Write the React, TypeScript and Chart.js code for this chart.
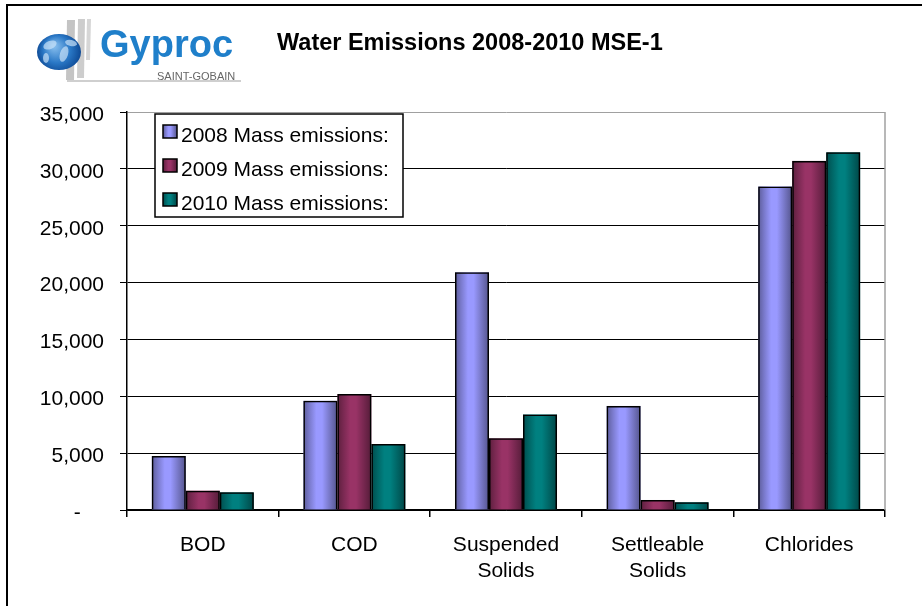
import React, { useEffect, useRef } from 'react';
import { Chart, registerables } from 'chart.js';

Chart.register(...registerables);

// ---- data ----
const categories: (string | string[])[] = ['BOD', 'COD', ['Suspended', 'Solids'], ['Settleable', 'Solids'], 'Chlorides'];
const seriesLabels = ['2008 Mass emissions:', '2009 Mass emissions:', '2010 Mass emissions:'];
const values2008 = [4750, 9600, 20900, 9150, 28450];
const values2009 = [1700, 10200, 6300, 880, 30700];
const values2010 = [1550, 5800, 8400, 680, 31450];
const yMin = 0;
const yMax = 35000;
const yStep = 5000;
const titleText = 'Water Emissions 2008-2010 MSE-1';
const logoText = 'Gyproc';
const logoSubText = 'SAINT-GOBAIN';

// ---- styles ----
const seriesColors = ['#9999FF', '#993366', '#008080'];
const FONT = '"Liberation Sans", Arial, Helvetica, sans-serif';

function hexToRgb(hex: string) {
  const h = hex.replace('#', '');
  return [parseInt(h.slice(0, 2), 16), parseInt(h.slice(2, 4), 16), parseInt(h.slice(4, 6), 16)];
}
function shade(hex: string, f: number) {
  const [r, g, b] = hexToRgb(hex);
  return `rgb(${Math.round(r * f)},${Math.round(g * f)},${Math.round(b * f)})`;
}
function barGradient(ctx: CanvasRenderingContext2D, left: number, width: number, color: string) {
  const g = ctx.createLinearGradient(left, 0, left + width, 0);
  g.addColorStop(0, shade(color, 0.6));
  g.addColorStop(0.18, shade(color, 0.8));
  g.addColorStop(0.38, color);
  g.addColorStop(0.55, color);
  g.addColorStop(0.8, shade(color, 0.75));
  g.addColorStop(1, shade(color, 0.55));
  return g;
}

function fmt(v: number) {
  if (v === 0) return '-    ';
  return String(v).replace(/\B(?=(\d{3})+(?!\d))/g, ',');
}

function drawLogo(ctx: CanvasRenderingContext2D) {
  ctx.save();
  // gray stripes
  ctx.fillStyle = '#c4c4c4';
  ctx.beginPath();
  ctx.moveTo(67, 20); ctx.lineTo(75, 20); ctx.lineTo(74, 80); ctx.lineTo(66, 80); ctx.closePath(); ctx.fill();
  ctx.fillStyle = '#cdcdcd';
  ctx.beginPath();
  ctx.moveTo(78, 19); ctx.lineTo(85, 19); ctx.lineTo(84, 78); ctx.lineTo(77, 78); ctx.closePath(); ctx.fill();
  ctx.fillStyle = '#d6d6d6';
  ctx.beginPath();
  ctx.moveTo(87, 19); ctx.lineTo(91, 19); ctx.lineTo(90, 60); ctx.lineTo(86, 60); ctx.closePath(); ctx.fill();
  // base line
  ctx.fillStyle = '#cfcfcf';
  ctx.fillRect(67, 80, 174, 2);
  // globe
  ctx.save();
  ctx.beginPath();
  ctx.ellipse(59, 52, 22, 18, 0, 0, Math.PI * 2);
  ctx.closePath();
  const rg = ctx.createRadialGradient(54, 46, 2, 59, 52, 23);
  rg.addColorStop(0, '#7fb8ea');
  rg.addColorStop(0.55, '#2a78c6');
  rg.addColorStop(1, '#0b4590');
  ctx.fillStyle = rg;
  ctx.fill();
  ctx.clip();
  ctx.fillStyle = 'rgba(200,225,248,0.7)';
  ctx.beginPath(); ctx.ellipse(50, 45, 7, 4, -0.4, 0, Math.PI * 2); ctx.fill();
  ctx.beginPath(); ctx.ellipse(64, 54, 4, 8, 0.3, 0, Math.PI * 2); ctx.fill();
  ctx.beginPath(); ctx.ellipse(46, 58, 3, 5, 0, 0, Math.PI * 2); ctx.fill();
  ctx.beginPath(); ctx.ellipse(71, 43, 6, 3, 0.2, 0, Math.PI * 2); ctx.fill();
  ctx.restore();
  // text
  ctx.fillStyle = '#1f7fca';
  ctx.font = `bold 38px ${FONT}`;
  ctx.textAlign = 'left';
  ctx.textBaseline = 'alphabetic';
  ctx.fillText(logoText, 100, 57);
  ctx.fillStyle = '#666';
  ctx.font = `11px ${FONT}`;
  ctx.fillText(logoSubText, 157, 80, 81);
  ctx.restore();
}

const decorPlugin = {
  id: 'decor',
  beforeDraw(chart: any) {
    const ctx: CanvasRenderingContext2D = chart.ctx;
    ctx.save();
    ctx.fillStyle = '#fff';
    ctx.fillRect(0, 0, chart.width, chart.height);
    ctx.strokeStyle = '#000';
    ctx.lineWidth = 2;
    ctx.strokeRect(7, 5, chart.width + 40, chart.height + 40);
    drawLogo(ctx);
    ctx.fillStyle = '#000';
    ctx.font = `bold 23.5px ${FONT}`;
    ctx.textAlign = 'left';
    ctx.textBaseline = 'alphabetic';
    ctx.fillText(titleText, 277, 49.5);
    ctx.restore();
  },
  beforeDatasetsDraw(chart: any) {
    const ctx: CanvasRenderingContext2D = chart.ctx;
    const area = chart.chartArea;
    ctx.save();
    // plot right border
    ctx.strokeStyle = '#a0a0a0';
    ctx.lineWidth = 1.5;
    ctx.beginPath();
    ctx.moveTo(area.right, area.top);
    ctx.lineTo(area.right, area.bottom);
    ctx.stroke();
    // bar gradient fills
    chart.data.datasets.forEach((ds: any, di: number) => {
      const meta = chart.getDatasetMeta(di);
      meta.data.forEach((el: any) => {
        const p = el.getProps(['x', 'y', 'base', 'width'], true);
        const left = p.x - p.width / 2;
        ctx.fillStyle = barGradient(ctx, left, p.width, seriesColors[di]);
        ctx.fillRect(left, Math.min(p.y, p.base), p.width, Math.abs(p.base - p.y));
      });
    });
    ctx.restore();
  },
  afterDraw(chart: any) {
    const ctx: CanvasRenderingContext2D = chart.ctx;
    ctx.save();
    const bx = 155, by = 114, bw = 248, bh = 103;
    ctx.fillStyle = '#fff';
    ctx.fillRect(bx, by, bw, bh);
    ctx.strokeStyle = '#000';
    ctx.lineWidth = 1.5;
    ctx.strokeRect(bx, by, bw, bh);
    ctx.font = `21px ${FONT}`;
    ctx.textAlign = 'left';
    ctx.textBaseline = 'alphabetic';
    seriesLabels.forEach((lab, i) => {
      const sy = 125 + i * 34;
      ctx.fillStyle = barGradient(ctx, 163, 14, seriesColors[i]);
      ctx.fillRect(163, sy, 14, 13);
      ctx.strokeStyle = '#000';
      ctx.lineWidth = 1.5;
      ctx.strokeRect(163, sy, 14, 13);
      ctx.fillStyle = '#000';
      ctx.fillText(lab, 181, sy + 16.5);
    });
    ctx.restore();
  },
};

export default function App() {
  const ref = useRef<HTMLCanvasElement>(null);
  useEffect(() => {
    if (!ref.current) return;
    Chart.defaults.font.family = FONT;
    const seriesValues = [values2008, values2009, values2010];
    const chart = new Chart(ref.current, {
      type: 'bar',
      data: {
        labels: categories,
        datasets: seriesValues.map((vals, i) => ({
          label: seriesLabels[i],
          data: vals,
          backgroundColor: 'rgba(0,0,0,0)',
          borderColor: '#000',
          borderWidth: 1.5,
          categoryPercentage: 0.673,
          barPercentage: 1,
        })),
      },
      options: {
        animation: false,
        responsive: false,
        devicePixelRatio: 1,
        events: [],
        layout: { padding: { top: 112, right: 37, left: 0, bottom: 0 } },
        plugins: {
          legend: { display: false },
          title: { display: false },
          tooltip: { enabled: false },
        },
        scales: {
          x: {
            grid: {
              display: true,
              drawOnChartArea: false,
              drawTicks: true,
              tickLength: 7,
              color: '#000',
              lineWidth: 1.5,
              offset: true,
            },
            border: { display: true, color: '#000', width: 1.5 },
            ticks: {
              color: '#000',
              font: { size: 21, lineHeight: 1.25 },
              padding: 15,
              maxRotation: 0,
              autoSkip: false,
            },
            afterFit: (s: any) => { s.height = 96; },
          },
          y: {
            min: yMin,
            max: yMax,
            ticks: {
              stepSize: yStep,
              color: '#000',
              font: { size: 21 },
              padding: 16,
              labelOffset: 3,
              callback: (v: any) => fmt(Number(v)),
            },
            grid: {
              color: (c: any) => (c.tick && c.tick.value === yMax ? '#a0a0a0' : '#000'),
              tickColor: '#000',
              tickLength: 7,
              lineWidth: 1,
            },
            border: { display: true, color: '#000', width: 1.5 },
            afterFit: (s: any) => { s.width = 127; },
          },
        },
      },
      plugins: [decorPlugin],
    } as any);
    return () => chart.destroy();
  }, []);
  return (
    <div style={{ position: 'absolute', left: 0, top: 0, width: 922, height: 606, background: '#fff' }}>
      <canvas ref={ref} width={922} height={606} style={{ display: 'block', width: 922, height: 606 }} />
    </div>
  );
}
